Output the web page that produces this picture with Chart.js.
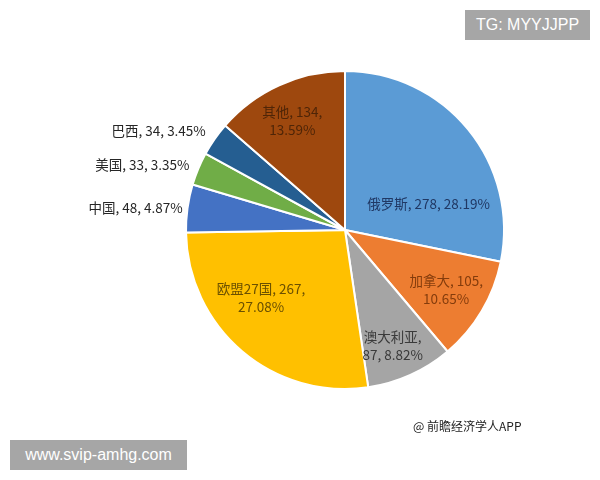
<!DOCTYPE html>
<html>
<head>
<meta charset="utf-8">
<script src="https://cdn.jsdelivr.net/npm/chart.js@4.4.1/dist/chart.umd.min.js"></script>
<style>
    body { margin: 0; background: #fff; }
    #wrap { position: relative; width: 600px; height: 480px; }
    .tag { position: absolute; background: #a6a6a6; color: #fff; font: 16px "Liberation Sans", Arial, sans-serif; text-align: center; }
    .src { position: absolute; font: 12px "Noto Sans CJK SC", sans-serif; color: #222; }
</style>
</head>
<body>
<div id="wrap">
    <canvas id="myPie" width="600" height="480"></canvas>
    <div class="tag" style="left:465px; top:10px; width:125px; height:30px; line-height:30px;">TG: MYYJJPP</div>
    <div class="tag" style="left:10px; top:440px; width:177px; height:30px; line-height:30px;">www.svip-amhg.com</div>
    <div class="src" style="left:413px; top:417px;">@ 前瞻经济学人APP</div>
</div>
<script>
const categories = ['俄罗斯', '加拿大', '澳大利亚', '欧盟27国', '中国', '美国', '巴西', '其他'];
const values = [278, 105, 87, 267, 48, 33, 34, 134];
const percents = ['28.19%', '10.65%', '8.82%', '27.08%', '4.87%', '3.35%', '3.45%', '13.59%'];

const colors = ['#5b9bd5', '#ed7d31', '#a5a5a5', '#ffc000', '#4472c4', '#70ad47', '#255e91', '#9e480e'];
// label placement: radius fraction, angle shift (deg), align, text colour, line breaks
const labelStyle = [
    {r: 0.55, a: 22, align: 'center', color: '#203864', lines: l => [l.join(', ')]},
    {r: 0.74, a: 0, align: 'center', color: '#843c0c', lines: l => [l[0] + ', ' + l[1] + ',', l[2]]},
    {r: 0.79, a: 2, align: 'center', color: '#3a3a3a', lines: l => [l[0] + ',', l[1] + ', ' + l[2]]},
    {r: 0.68, a: 10.6, align: 'center', color: '#6b5000', lines: l => [l[0] + ', ' + l[1] + ',', l[2]]},
    {r: 1.03, a: 0, align: 'right', color: '#262626', lines: l => [l.join(', ')]},
    {r: 1.06, a: 0, align: 'right', color: '#262626', lines: l => [l.join(', ')]},
    {r: 1.075, a: 0.6, align: 'right', color: '#262626', lines: l => [l.join(', ')]},
    {r: 0.76, a: -1.4, align: 'center', color: '#4f2507', lines: l => [l[0] + ', ' + l[1] + ',', l[2]]}
];

const pieLabels = {
    id: 'pieLabels',
    afterDatasetsDraw(chart) {
        const ctx = chart.ctx;
        const arcs = chart.getDatasetMeta(0).data;
        ctx.save();
        ctx.font = '13.5px "Noto Sans CJK SC", sans-serif';
        ctx.textBaseline = 'middle';
        arcs.forEach((arc, i) => {
            const p = arc.getProps(['x', 'y', 'startAngle', 'endAngle', 'outerRadius'], true);
            const st = labelStyle[i];
            const ang = (p.startAngle + p.endAngle) / 2 + st.a * Math.PI / 180;
            const x = p.x + Math.cos(ang) * p.outerRadius * st.r;
            const y = p.y + Math.sin(ang) * p.outerRadius * st.r;
            const lines = st.lines([categories[i], String(values[i]), percents[i]]);
            ctx.fillStyle = st.color;
            ctx.textAlign = st.align;
            const lh = 18;
            lines.forEach((t, k) => {
                ctx.fillText(t, x, y + (k - (lines.length - 1) / 2) * lh);
            });
        });
        ctx.restore();
    }
};

const ctxPie = document.getElementById('myPie').getContext('2d');
const myPie = new Chart(ctxPie, {
    type: 'pie',
    data: {
        labels: categories,
        datasets: [{
            data: values,
            backgroundColor: colors,
            borderColor: '#ffffff',
            borderWidth: 2
        }]
    },
    options: {
        responsive: false,
        animation: false,
        layout: {padding: {left: 185, right: 95, top: 69, bottom: 89}},
        plugins: {
            legend: {display: false},
            tooltip: {enabled: false}
        }
    },
    plugins: [pieLabels]
});
</script>
</body>
</html>
